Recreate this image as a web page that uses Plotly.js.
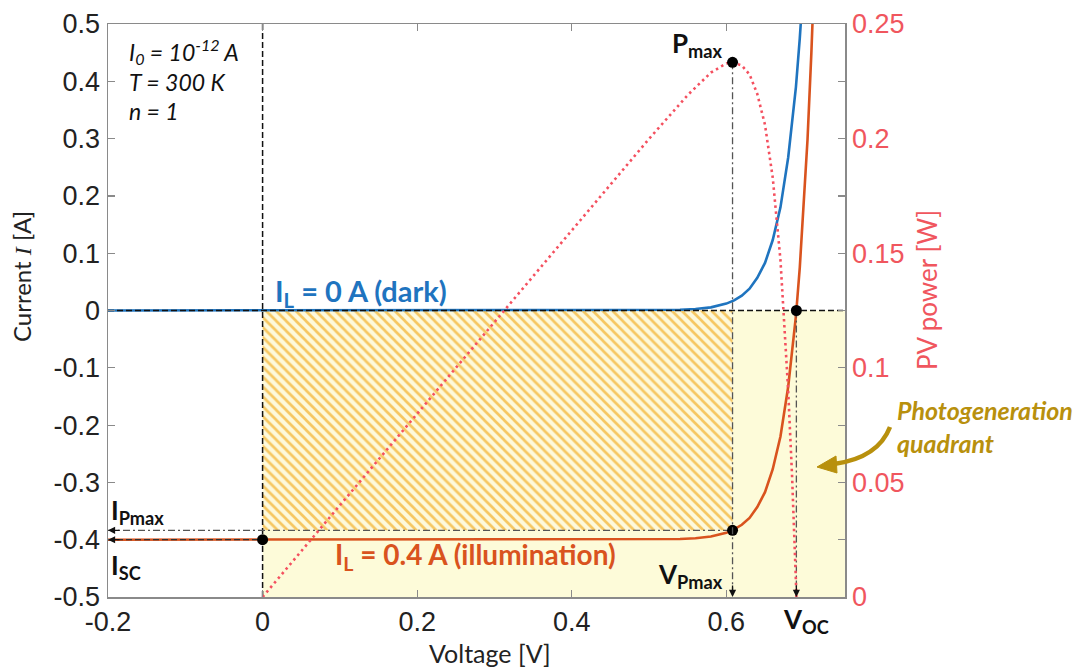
<!DOCTYPE html>
<html>
<head>
<meta charset="utf-8">
<script src="https://cdn.plot.ly/plotly-3.0.1.min.js"></script>
<style>html,body{margin:0;padding:0;background:#fff;}#chart{width:1083px;height:668px;}</style>
</head>
<body>
<div id="chart"></div>
<script>
// ---- data ----
const V_dark = [-0.2, -0.1, 0, 0.1, 0.2, 0.3, 0.4, 0.5, 0.52, 0.54, 0.56, 0.58, 0.6, 0.61, 0.62, 0.63, 0.64, 0.65, 0.66, 0.67, 0.68, 0.69, 0.695, 0.70];
const I_dark = [0, 0, 0, 0, 0, 0, 0.000005, 0.00025, 0.00055, 0.0012, 0.0026, 0.0055, 0.012, 0.0177, 0.026, 0.038, 0.057, 0.083, 0.123, 0.18, 0.267, 0.39, 0.475, 0.577];
const V_light = [-0.2, -0.1, 0, 0.1, 0.2, 0.3, 0.4, 0.5, 0.52, 0.54, 0.56, 0.58, 0.6, 0.61, 0.62, 0.63, 0.64, 0.65, 0.66, 0.67, 0.68, 0.69, 0.695, 0.70, 0.705, 0.71, 0.715];
const I_light = [-0.4, -0.4, -0.4, -0.4, -0.4, -0.4, -0.4, -0.3998, -0.3995, -0.3988, -0.3974, -0.3945, -0.388, -0.382, -0.374, -0.362, -0.343, -0.317, -0.277, -0.22, -0.133, -0.01, 0.075, 0.177, 0.298, 0.45, 0.63];
const V_pow = [0, 0.1, 0.2, 0.3, 0.4, 0.5, 0.55, 0.58, 0.6, 0.608, 0.62, 0.63, 0.64, 0.65, 0.66, 0.67, 0.68, 0.685, 0.69, 0.6906];
const P_pow = [0, 0.04, 0.08, 0.12, 0.16, 0.1999, 0.219, 0.2288, 0.2328, 0.2333, 0.2319, 0.228, 0.2195, 0.206, 0.183, 0.147, 0.090, 0.053, 0.007, 0];
const Vmp = 0.608, Imp = -0.3837, Pmax = 0.2333, Isc = -0.4, Voc = 0.6906;
const xRange = [-0.2, 0.7535], yRange = [-0.5, 0.5], y2Range = [0, 0.25];
const xTicks = [-0.2, 0, 0.2, 0.4, 0.6];
const xTickText = ['-0.2', '0', '0.2', '0.4', '0.6'];
const yTicks = [-0.5, -0.4, -0.3, -0.2, -0.1, 0, 0.1, 0.2, 0.3, 0.4, 0.5];
const yTickText = ['-0.5', '-0.4', '-0.3', '-0.2', '-0.1', '0', '0.1', '0.2', '0.3', '0.4', '0.5'];
const y2Ticks = [0, 0.05, 0.1, 0.15, 0.2, 0.25];
const y2TickText = ['0', '0.05', '0.1', '0.15', '0.2', '0.25'];

// ---- styling ----
const BLUE = '#1f74bf', ORANGE = '#d9531e', RED = '#f4505f', REDTXT = '#f0565e', GOLD = '#b8900d';
const L = 108, R = 238, T = 24, B = 71, W = 1083, H = 668;
const pw = W - L - R, ph = H - T - B;
const xp = px => (px - L) / pw;
const yp = py => (H - B - py) / ph;
const TXT = 'Lato, "Open Sans", sans-serif';
const NUM = '"Liberation Sans", Arial, sans-serif';
const DASH = '6px,3px', DASHDOT = '7px,3px,2px,3px';

const traces = [
  { x: [0, Vmp, Vmp, 0, 0], y: [0, 0, Imp, Imp, 0], mode: 'lines', fill: 'toself', line: { width: 0 },
    fillcolor: '#fdf9dc',
    fillpattern: { shape: '\\', size: 7, solidity: 0.38, fgcolor: '#f6c762', bgcolor: '#fdf9dc' },
    hoverinfo: 'skip', showlegend: false },
  { x: V_dark, y: I_dark, mode: 'lines', line: { color: BLUE, width: 2.6 }, showlegend: false },
  { x: V_light, y: I_light, mode: 'lines', line: { color: ORANGE, width: 2.6 }, showlegend: false },
  // guide lines
  { x: [0, 0], y: yRange, mode: 'lines', line: { color: '#111', width: 1.5, dash: DASH }, showlegend: false },
  { x: xRange, y: [0, 0], mode: 'lines', line: { color: '#111', width: 1.5, dash: DASH }, showlegend: false },
  { x: [xRange[0], 0], y: [Isc, Isc], mode: 'lines', line: { color: '#333', width: 1.2, dash: DASH }, showlegend: false },
  { x: [xRange[0], Vmp], y: [Imp, Imp], mode: 'lines', line: { color: '#555', width: 1.3, dash: DASHDOT }, showlegend: false },
  { x: [Voc, Voc], y: [0, yRange[0]], mode: 'lines', line: { color: '#555', width: 1.3, dash: DASHDOT }, showlegend: false },
  { x: [Vmp, Vmp], y: [Pmax, 0], yaxis: 'y2', mode: 'lines', line: { color: '#555', width: 1.3, dash: DASHDOT }, showlegend: false },
  // power
  { x: V_pow, y: P_pow, yaxis: 'y2', mode: 'lines', line: { color: RED, width: 2.6, dash: '2.5px,3.5px' }, showlegend: false },
  // points
  { x: [0, Vmp, Voc], y: [Isc, Imp, 0], mode: 'markers', marker: { color: '#000', size: 11 }, showlegend: false, cliponaxis: false },
  { x: [Vmp], y: [Pmax], yaxis: 'y2', mode: 'markers', marker: { color: '#000', size: 11 }, showlegend: false, cliponaxis: false }
];

function arrowAt(x, y, ax, ay, yref) {
  return { x: x, y: y, xref: 'x', yref: yref || 'y', text: '', showarrow: true, ax: ax, ay: ay,
    arrowhead: 2, arrowsize: 1.1, arrowwidth: 1.3, arrowcolor: '#111', standoff: 0 };
}
function label(px, py, text, opts) {
  return Object.assign({ x: xp(px), y: yp(py), xref: 'paper', yref: 'paper', text: text, showarrow: false,
    xanchor: 'left', yanchor: 'middle', font: { family: TXT, size: 24, color: '#111' } }, opts || {});
}

const annotations = [
  arrowAt(Vmp, yRange[0], 0, -13),
  arrowAt(Voc, yRange[0], 0, -13),
  arrowAt(xRange[0], Imp, 13, 0),
  arrowAt(xRange[0], Isc, 13, 0),
  label(127, 52, '<i>I<sub>0</sub> = 10<sup>-12</sup> A</i>', { font: { family: TXT, size: 23, color: '#111' } }),
  label(127, 82, '<i>T = 300 K</i>', { font: { family: TXT, size: 23, color: '#111' } }),
  label(127, 111, '<i>n = 1</i>', { font: { family: TXT, size: 23, color: '#111' } }),
  label(670, 44, '<b>P<sub>max</sub></b>', { font: { family: TXT, size: 26, color: '#111' } }),
  label(273, 292, '<b>I<sub>L</sub> = 0 A (dark)</b>', { font: { family: TXT, size: 29, color: BLUE } }),
  label(333, 556, '<b>I<sub>L</sub> = 0.4 A (illumination)</b>', { font: { family: TXT, size: 28, color: ORANGE } }),
  label(109, 511, '<b>I<sub>Pmax</sub></b>', { font: { family: TXT, size: 26, color: '#111' } }),
  label(109, 566, '<b>I<sub>SC</sub></b>', { font: { family: TXT, size: 26, color: '#111' } }),
  label(656, 575, '<b>V<sub>Pmax</sub></b>', { font: { family: TXT, size: 26, color: '#111' } }),
  label(781, 620, '<b>V<sub>OC</sub></b>', { font: { family: TXT, size: 26, color: '#111' } }),
  label(895, 426, '<b><i>Photogeneration<br>quadrant</i></b>', { align: 'left', font: { family: TXT, size: 25, color: GOLD } }),
  label(490, 653, 'Voltage [V]', { xanchor: 'center', font: { family: TXT, size: 25, color: '#222' } }),
  label(21, 277, 'Current <span style="font-family:\'Liberation Serif\',serif"><i>I</i></span> [A]', { xanchor: 'center', textangle: -90, font: { family: TXT, size: 24, color: '#222' } }),
  label(927, 290, 'PV power [W]', { xanchor: 'center', textangle: -90, font: { family: TXT, size: 26, color: REDTXT } })
];

const shapes = [
  { type: 'rect', xref: 'x', yref: 'y', x0: 0, x1: xRange[1], y0: yRange[0], y1: 0, fillcolor: '#fdfbd9', line: { width: 0 }, layer: 'below' },
  { type: 'path', xref: 'paper', yref: 'paper', layer: 'above',
    path: 'M ' + xp(890) + ',' + yp(427) + ' Q ' + xp(878) + ',' + yp(458) + ' ' + xp(834) + ',' + yp(464),
    line: { color: GOLD, width: 4.5 } },
  { type: 'path', xref: 'paper', yref: 'paper', layer: 'above',
    path: 'M ' + xp(817) + ',' + yp(467) + ' L ' + xp(836) + ',' + yp(456) + ' L ' + xp(837) + ',' + yp(473) + ' Z',
    fillcolor: GOLD, line: { color: GOLD, width: 1 } }
];

const axisCommon = { showgrid: false, zeroline: false, showline: true, linecolor: '#8a8a8a', linewidth: 1.5,
  ticks: 'inside', ticklen: 7, tickcolor: '#8a8a8a', tickwidth: 1.2 };

const layout = {
  width: W, height: H, margin: { l: L, r: R, t: T, b: B, pad: 0 },
  paper_bgcolor: '#fff', plot_bgcolor: '#fff', showlegend: false,
  font: { family: NUM, size: 26, color: '#222' },
  xaxis: Object.assign({}, axisCommon, { range: xRange, tickvals: xTicks, ticktext: xTickText, mirror: 'ticks',
    tickfont: { family: NUM, size: 27, color: '#222' }, ticklabelstandoff: 0 }),
  yaxis: Object.assign({}, axisCommon, { range: yRange, tickvals: yTicks, ticktext: yTickText, mirror: true,
    tickfont: { family: NUM, size: 27, color: '#222' }, ticklabelstandoff: 1 }),
  yaxis2: Object.assign({}, axisCommon, { range: y2Range, overlaying: 'y', side: 'right', tickvals: y2Ticks, ticktext: y2TickText,
    tickfont: { family: NUM, size: 27, color: REDTXT }, ticklabelstandoff: 0,
    minor: { dtick: 0.025, ticks: 'inside', ticklen: 7, tickcolor: '#8a8a8a', tickwidth: 1.2 } }),
  annotations: annotations,
  shapes: shapes
};

Plotly.newPlot('chart', traces, layout, { staticPlot: true, displayModeBar: false });
</script>
</body>
</html>
